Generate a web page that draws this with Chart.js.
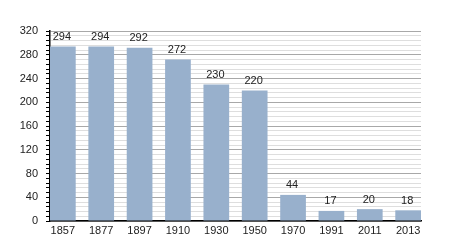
<!DOCTYPE html>
<html>
<head>
<meta charset="utf-8">
<script src="https://cdn.jsdelivr.net/npm/chart.js@4/dist/chart.umd.min.js"></script>
<style>
  html, body { margin: 0; padding: 0; background: #fff; }
  #wrap { width: 450px; height: 250px; }
</style>
</head>
<body>
<div id="wrap"><canvas id="popChart"></canvas></div>
<script>
// ===== DATA =====
const years = ["1857", "1877", "1897", "1910", "1930", "1950", "1970", "1991", "2011", "2013"];
const population = [294, 294, 292, 272, 230, 220, 44, 17, 20, 18];
const yTicks = [0, 40, 80, 120, 160, 200, 240, 280, 320];

const barColor = "#98b0cc";
const textColor = "#222";
const font = { family: "'Liberation Sans', Arial, sans-serif", size: 11 };

// ===== VALUE LABELS ABOVE BARS =====
const valueLabels = {
  id: "valueLabels",
  afterDatasetsDraw(chart) {
    const ctx = chart.ctx;
    const meta = chart.getDatasetMeta(0);
    ctx.save();
    ctx.font = `${font.size}px ${font.family}`;
    ctx.fillStyle = textColor;
    ctx.textAlign = "center";
    ctx.textBaseline = "bottom";
    meta.data.forEach((bar, i) => {
      ctx.fillText(String(population[i]), bar.x - 1, bar.y - 4);
    });
    ctx.restore();
  }
};

// ===== CHART =====
const ctx = document.getElementById("popChart").getContext("2d");
new Chart(ctx, {
  type: "bar",
  data: {
    datasets: [{
      data: population.map((v, i) => ({ x: i, y: v })),
      backgroundColor: barColor,
      borderWidth: 0,
      categoryPercentage: 1,
      barPercentage: 0.67,
    }],
  },
  options: {
    responsive: true,
    maintainAspectRatio: false,
    animation: false,
    layout: { padding: { left: 0, right: 29, top: 31, bottom: 0 } },
    scales: {
      x: {
        type: "linear",
        min: -0.335,
        max: 9.335,
        offset: false,
        afterBuildTicks: (scale) => {
          scale.ticks = years.map((y, i) => ({ value: i }));
        },
        afterFit: (scale) => { scale.height = 29; },
        ticks: {
          callback: (v) => years[v] ?? "",
          color: textColor,
          font: font,
          padding: 3,
          maxRotation: 0,
          autoSkip: false,
        },
        grid: { display: false, drawTicks: false },
        border: { color: "#000", width: 1.5 },
      },
      y: {
        min: 0,
        max: 320,
        afterBuildTicks: (scale) => {
          const t = [];
          for (let v = 0; v <= 320; v += 8) t.push({ value: v });
          scale.ticks = t;
        },
        afterFit: (scale) => { scale.width = 50; },
        ticks: {
          callback: (v) => (yTicks.includes(v) ? v : ""),
          color: textColor,
          font: font,
          padding: 8,
          autoSkip: false,
        },
        grid: {
          color: (c) => (c.tick && c.tick.value % 40 === 0 ? "#a8a8a8" : "#dedede"),
          tickColor: "#000",
          tickLength: 4,
          lineWidth: 1,
        },
        border: { color: "#000", width: 1.5 },
      },
    },
    plugins: {
      legend: { display: false },
      tooltip: { enabled: false },
    },
  },
  plugins: [valueLabels],
});
</script>
</body>
</html>
